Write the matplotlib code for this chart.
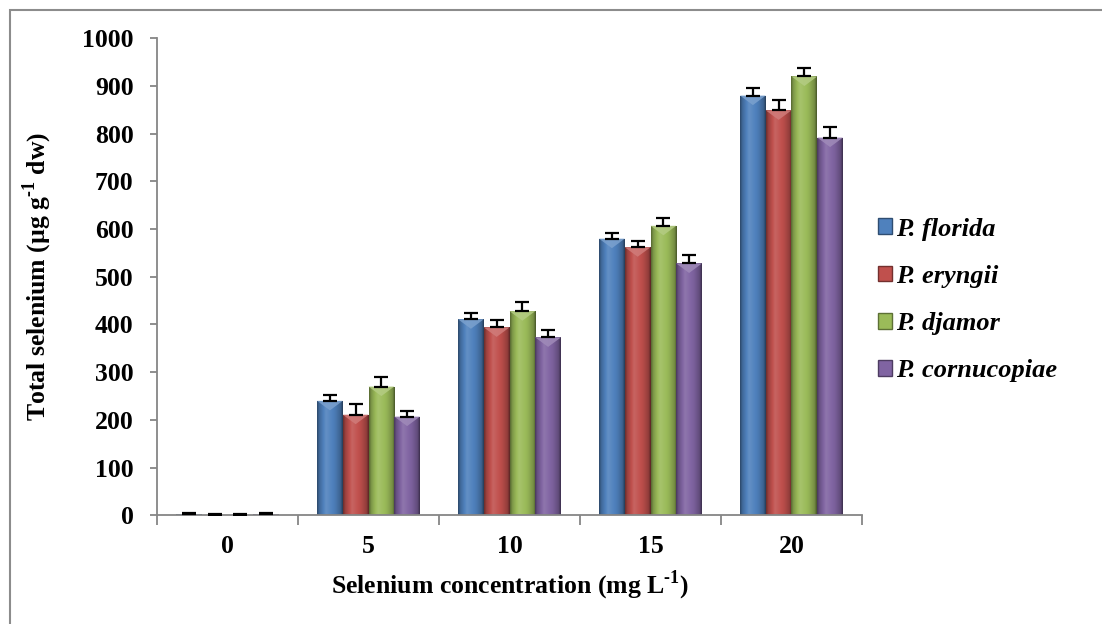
import numpy as np
import matplotlib
matplotlib.use("Agg")
import matplotlib.pyplot as plt
from matplotlib.patches import Rectangle, Polygon
from matplotlib.colors import to_rgb

# ======================
# data
# ======================
concentrations = ["0", "5", "10", "15", "20"]
species = ["P. florida", "P. eryngii", "P. djamor", "P. cornucopiae"]

florida = [2, 240, 411, 580, 880]
eryngii = [1, 211, 394, 562, 849]
djamor = [1, 270, 428, 607, 920]
cornucopiae = [2, 207, 373, 528, 792]

florida_err = [2, 12, 14, 12, 15]
eryngii_err = [1, 22, 16, 14, 22]
djamor_err = [1, 20, 19, 16, 18]
cornucopiae_err = [2, 12, 15, 18, 21]

series = [florida, eryngii, djamor, cornucopiae]
errors = [florida_err, eryngii_err, djamor_err, cornucopiae_err]
colors = ["#4F81BD", "#C0504D", "#9BBB59", "#8064A2"]

plt.rcParams["font.family"] = ["Liberation Serif", "DejaVu Serif"]
plt.rcParams["font.weight"] = "bold"
plt.rcParams["mathtext.fontset"] = "custom"
plt.rcParams["mathtext.rm"] = "Liberation Serif:bold"
plt.rcParams["mathtext.bf"] = "Liberation Serif:bold"

fig = plt.figure(figsize=(11.02, 6.24), dpi=100)
ax = fig.add_axes([157 / 1102, 1 - 515.3 / 624, 705 / 1102, 477 / 624])

x = np.arange(len(concentrations))
n = len(series)
bw = 0.1825
spine_col = "#868686"
fs = 18.5


def shade(c, f):
    r = np.array(to_rgb(c))
    if f >= 1:
        return r + (1 - r) * (f - 1)
    return r * f


# horizontal brightness profile of the bevelled bars
prof_t = np.linspace(0, 1, 64)
prof_f = np.interp(prof_t, [0, 0.08, 0.35, 0.7, 0.92, 1], [0.55, 0.8, 1.12, 0.95, 0.75, 0.45])

for i, (vals, errs, col) in enumerate(zip(series, errors, colors)):
    offs = x + (i - (n - 1) / 2) * bw
    bars = ax.bar(offs, vals, bw, color=col, edgecolor="none", zorder=2)
    grad = np.array([[shade(col, f) for f in prof_f]])
    for b in bars:
        x0, w, h = b.get_x(), b.get_width(), b.get_height()
        im = ax.imshow(grad, extent=[x0, x0 + w, 0, h], aspect="auto",
                       interpolation="bicubic", zorder=2.1)
        im.set_clip_path(b)
        # lighter chevron at the top of each bar
        th = 20
        if h > th * 1.5:
            tri = Polygon([[x0, h], [x0 + w, h], [x0 + w / 2, h - th]],
                          closed=True, facecolor=shade(col, 1.25),
                          edgecolor="none", alpha=0.85, zorder=2.2)
            ax.add_patch(tri)
    ax.errorbar(offs, vals, yerr=[np.zeros(len(vals)), errs], fmt="none",
                ecolor="black", elinewidth=1.6, capsize=4.8, capthick=1.6, zorder=3)

ax.set_xlim(-0.5, len(concentrations) - 0.5)
ax.set_ylim(0, 1000)

for s in ["top", "right"]:
    ax.spines[s].set_visible(False)
for s in ["left", "bottom"]:
    ax.spines[s].set_color(spine_col)
    ax.spines[s].set_linewidth(1.3)

ax.set_yticks(np.arange(0, 1001, 100))
ax.tick_params(axis="y", direction="out", length=5, width=1.3, color=spine_col,
               pad=12, labelsize=fs)
ax.set_xticks(np.arange(-0.5, len(concentrations)), [])
ax.set_xticks(x, concentrations, minor=True)
ax.tick_params(axis="x", which="major", direction="out", length=7, width=1.3, color=spine_col)
ax.tick_params(axis="x", which="minor", length=0, pad=14, labelsize=fs)
for lab in ax.get_yticklabels() + ax.get_xticklabels(minor=True):
    lab.set_fontweight("bold")

ax.set_xlabel(r"Selenium concentration (mg L$^{\text{-}1}$)", fontsize=fs,
              fontweight="bold", labelpad=8)
ax.set_ylabel(r"Total selenium (µg g$^{\text{-}1}$ dw)", fontsize=fs,
              fontweight="bold", labelpad=20)

# legend
handles = [Rectangle((0, 0), 1, 1, facecolor=c, edgecolor=shade(c, 0.6), linewidth=1)
           for c in colors]
leg = fig.legend(handles, species, loc="center left",
                 bbox_to_anchor=(854 / 1102, 1 - 300 / 624), frameon=False,
                 prop={"family": "Liberation Serif", "weight": "bold",
                       "style": "italic", "size": 19},
                 handlelength=0.55, handleheight=0.55, handletextpad=0.15,
                 labelspacing=0.92)

# outer chart-area frame (only left and top visible in the crop)
fig.patches.append(Rectangle((10 / 1102, -0.2), 1.2, 0.2 + (1 - 10 / 624),
                             transform=fig.transFigure, fill=False,
                             edgecolor="#8c8c8c", linewidth=1.5))

fig.savefig("out.png", dpi=100)
